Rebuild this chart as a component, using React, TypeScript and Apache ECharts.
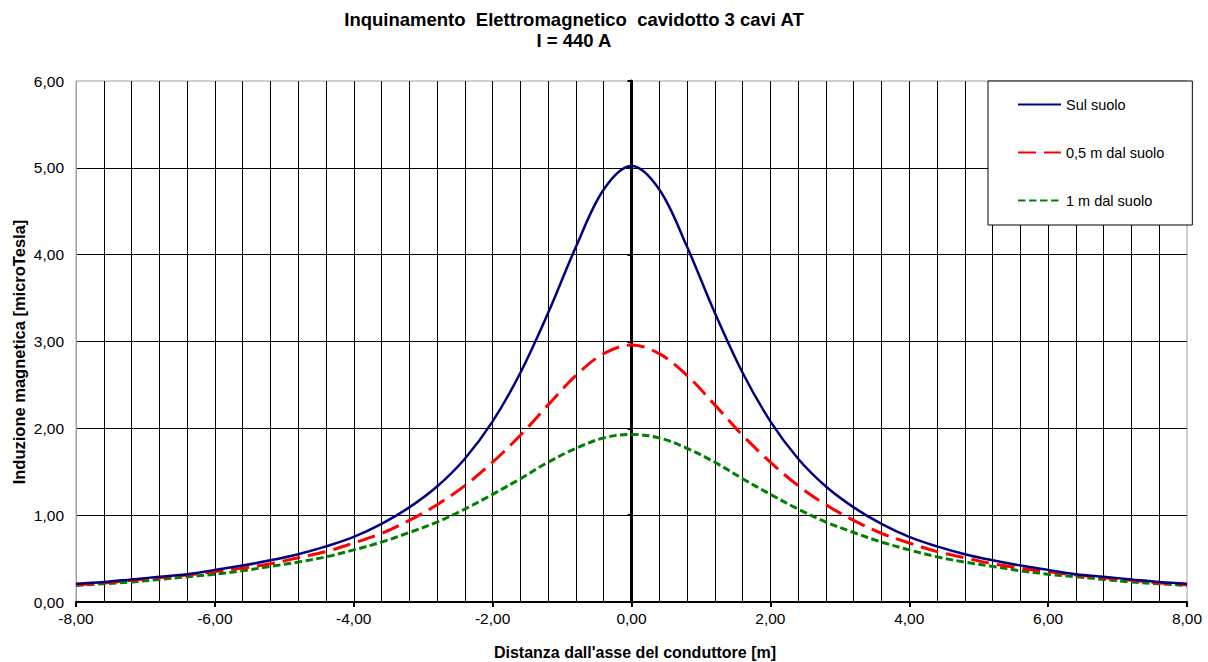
import React, { useEffect, useRef } from "react";
import * as echarts from "echarts";

const xValues = [
  -8, -7.6, -7.2, -6.8, -6.4, -6, -5.6, -5.2, -4.8, -4.4, -4, -3.6, -3.2, -2.8, -2.4, -2, -1.6, -1.2, -0.8, -0.4,
  0, 0.4, 0.8, 1.2, 1.6, 2, 2.4, 2.8, 3.2, 3.6, 4, 4.4, 4.8, 5.2, 5.6, 6, 6.4, 6.8, 7.2, 7.6, 8,
];

const sulSuolo = [
  0.21, 0.23, 0.26, 0.29, 0.32, 0.37, 0.42, 0.48, 0.55, 0.64, 0.75, 0.9, 1.09, 1.33, 1.65, 2.08, 2.64, 3.33, 4.09, 4.75,
  5.02, 4.75, 4.09, 3.33, 2.64, 2.08, 1.65, 1.33, 1.09, 0.9, 0.75, 0.64, 0.55, 0.48, 0.42, 0.37, 0.32, 0.29, 0.26, 0.23, 0.21,
];

const mezzoMetro = [
  0.2, 0.22, 0.25, 0.28, 0.31, 0.35, 0.39, 0.44, 0.51, 0.58, 0.68, 0.79, 0.94, 1.12, 1.34, 1.61, 1.92, 2.27, 2.61, 2.86,
  2.96, 2.86, 2.61, 2.27, 1.92, 1.61, 1.34, 1.12, 0.94, 0.79, 0.68, 0.58, 0.51, 0.44, 0.39, 0.35, 0.31, 0.28, 0.25, 0.22, 0.2,
];

const unMetro = [
  0.19, 0.21, 0.23, 0.26, 0.29, 0.32, 0.36, 0.41, 0.46, 0.52, 0.6, 0.69, 0.8, 0.92, 1.07, 1.24, 1.42, 1.61, 1.77, 1.89,
  1.93, 1.89, 1.77, 1.61, 1.42, 1.24, 1.07, 0.92, 0.8, 0.69, 0.6, 0.52, 0.46, 0.41, 0.36, 0.32, 0.29, 0.26, 0.23, 0.21, 0.19,
];

const seriesNames = ["Sul suolo", "0,5 m dal suolo", "1 m dal suolo"];
const titleLines = ["Inquinamento  Elettromagnetico  cavidotto 3 cavi AT", "I = 440 A"];
const xAxisTitle = "Distanza dall'asse del conduttore [m]";
const yAxisTitle = "Induzione magnetica [microTesla]";

const FONT = "'Liberation Sans', Arial, sans-serif";
const fmt = (v: number) => v.toFixed(2).replace(".", ",");

export default function App() {
  const ref = useRef<HTMLDivElement>(null);
  useEffect(() => {
    if (!ref.current) return;
    const chart = echarts.init(ref.current, null, { renderer: "svg" });
    const pair = (ys: number[]) => xValues.map((x, i) => [x, ys[i]]);
    const boldText = (text: string, x: number, y: number, size: number, rotation = 0) => ({
      type: "text",
      x,
      y,
      rotation,
      style: {
        text,
        fontFamily: FONT,
        fontWeight: "bold",
        fontSize: size,
        fill: "#000",
        align: "center",
        verticalAlign: "middle",
      },
      z: 20,
    });
    chart.setOption({
      animation: false,
      backgroundColor: "#ffffff",
      graphic: [
        boldText(titleLines[0], 574, 19, 18.5),
        boldText(titleLines[1], 574, 40, 18.5),
        boldText(xAxisTitle, 635, 652, 16),
        boldText(yAxisTitle, 19, 352, 16.5, Math.PI / 2),
      ],
      legend: {
        orient: "vertical",
        left: 988,
        top: 81,
        padding: [16, 28, 17, 29],
        itemWidth: 43,
        itemHeight: 14,
        itemGap: 33,
        backgroundColor: "#ffffff",
        borderColor: "#000",
        borderWidth: 1,
        itemStyle: { opacity: 0 },
        textStyle: { fontFamily: FONT, fontSize: 14.5, color: "#000" },
        data: seriesNames,
        z: 10,
      },
      grid: {
        left: 76,
        top: 81,
        right: 21,
        bottom: 60,
        show: true,
        borderColor: "#a0a0a0",
        borderWidth: 1,
        backgroundColor: "transparent",
      },
      xAxis: {
        type: "value",
        min: -8,
        max: 8,
        interval: 2,
        axisLine: { show: true, onZero: false, lineStyle: { color: "#000", width: 2 } },
        axisTick: { show: true, length: 5, lineStyle: { color: "#000", width: 2 } },
        axisLabel: { formatter: fmt, fontFamily: FONT, fontSize: 15.5, color: "#000", margin: 8 },
        splitLine: { show: true, showMinLine: false, showMaxLine: false, lineStyle: { color: "#000", width: 1 } },
        minorTick: { show: false, splitNumber: 5 },
        minorSplitLine: { show: true, lineStyle: { color: "#000", width: 1 } },
      },
      yAxis: [
        {
          type: "value",
          min: 0,
          max: 6,
          interval: 1,
          axisLine: { show: true, onZero: false, lineStyle: { color: "#a0a0a0", width: 1 } },
          axisTick: { show: false },
          axisLabel: { formatter: fmt, fontFamily: FONT, fontSize: 15.5, color: "#000", margin: 12 },
          splitLine: { show: true, showMinLine: false, showMaxLine: false, lineStyle: { color: "#000", width: 1 } },
        },
        {
          type: "value",
          min: 0,
          max: 6,
          interval: 1,
          position: "left",
          axisLine: { show: true, onZero: true, onZeroAxisIndex: 0, lineStyle: { color: "#000", width: 3 } },
          axisTick: { show: true, length: 4, lineStyle: { color: "#000", width: 2 } },
          axisLabel: { show: false },
          splitLine: { show: false },
        },
      ],
      series: [
        {
          name: seriesNames[0],
          type: "line",
          data: pair(sulSuolo),
          smooth: 0.35,
          symbol: "none",
          lineStyle: { color: "#000080", width: 2.5, type: "solid" },
          itemStyle: { color: "#000080" },
          z: 5,
        },
        {
          name: seriesNames[1],
          type: "line",
          data: pair(mezzoMetro),
          smooth: 0.35,
          symbol: "none",
          lineStyle: { color: "#ff0000", width: 3, type: [18, 8] },
          itemStyle: { color: "#ff0000" },
          z: 4,
        },
        {
          name: seriesNames[2],
          type: "line",
          data: pair(unMetro),
          smooth: 0.35,
          symbol: "none",
          lineStyle: { color: "#008000", width: 3, type: [7.5, 3.5] },
          itemStyle: { color: "#008000" },
          z: 3,
        },
      ],
    });
    return () => chart.dispose();
  }, []);
  return <div ref={ref} style={{ width: 1208, height: 662, position: "absolute", left: 0, top: 0 }} />;
}
